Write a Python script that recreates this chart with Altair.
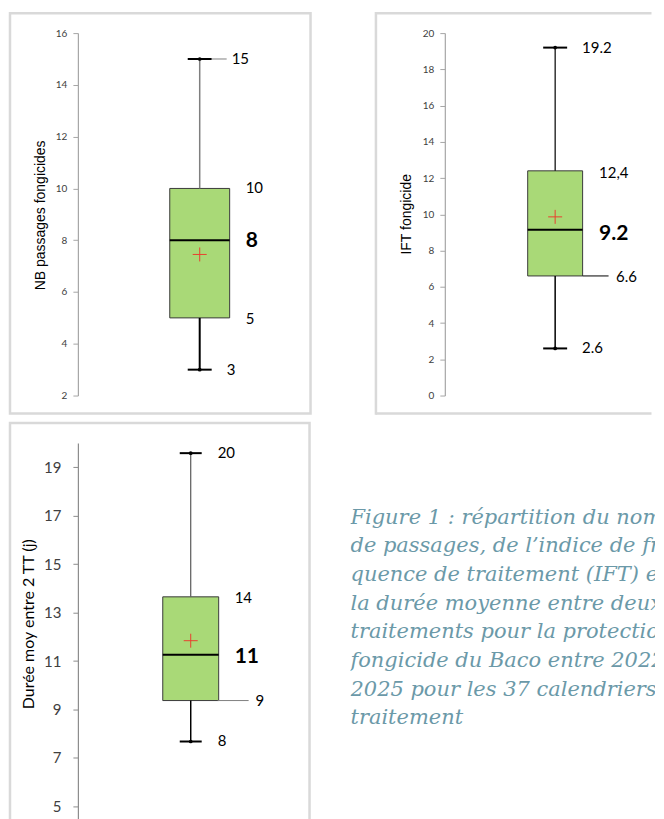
import altair as alt
import pandas as pd

# ---------------- data ----------------
panel_titles = ["NB passages fongicides", "IFT fongicide", "Durée moy entre 2 TT (j)"]
mins = [3, 2.6, 7.68]
q1s = [5, 6.6, 9.37]
medians = [8, 9.15, 11.26]
q3s = [10, 12.4, 13.65]
maxs = [15, 19.2, 19.58]
means = [7.45, 9.86, 11.84]
label_max = ["15", "19.2", "20"]
label_q3 = ["10", "12,4", "14"]
label_med = ["8", "9.2", "11"]
label_q1 = ["5", "6.6", "9"]
label_min = ["3", "2.6", "8"]
tick_values = [
    [2, 4, 6, 8, 10, 12, 14, 16],
    [0, 2, 4, 6, 8, 10, 12, 14, 16, 18, 20],
    [5, 7, 9, 11, 13, 15, 17, 19],
]
caption_lines = [
    "Figure 1 : répartition du nombre",
    "de passages, de l’indice de fré-",
    "quence de traitement (IFT) et de",
    "la durée moyenne entre deux",
    "traitements pour la protection",
    "fongicide du Baco entre 2022 et",
    "2025 pour les 37 calendriers de",
    "traitement",
]

GREEN = "#a9d977"
FRAME = "#d9d9d9"
FW = 2.5  # frame stroke width

# per-panel layout / style settings
cfgs = [
    dict(w=301, h=401, dom=[2, 16], yr=[383, 20], xr=[160, 220], off=-68,
         axcol="#a6a6a6", lfs=10, lpad=6, tfont="Liberation Sans", tfs=14,
         tx=-37, ty=202, cap=24, up=("#7f7f7f", 1.5), low=("black", 2),
         dx=[32, 46, 46, 46, 27], dy=[0, 0, 1, 1, 0],
         leader=("hi", 202, 217, "#7f7f7f"), frame="view"),
    dict(w=276, h=401, dom=[0, 20], yr=[383, 20], xr=[152, 207], off=-69,
         axcol="#a6a6a6", lfs=10, lpad=6, tfont="Liberation Sans", tfs=14,
         tx=-38, ty=201, cap=24, up=("black", 1.2), low=("black", 1.5),
         dx=[27, 44, 44, 61, 27], dy=[0, 2, 4, 1, 0],
         leader=("q1", 207, 233, "black"), frame="open"),
    dict(w=300, h=420, dom=[4, 20], yr=[408.3, 20], xr=[153, 209], off=-68,
         axcol="#8c8c8c", lfs=15, lpad=12, tfont="Lato", tfs=16,
         tx=-49, ty=201, cap=22, up=("#595959", 1.2), low=("black", 1.5),
         dx=[27, 44, 44, 65, 27], dy=[0, 1, 2, 0, 0],
         leader=("q1", 208, 239, "#7f7f7f"), frame="view"),
]


def panel(i):
    c = cfgs[i]
    df = pd.DataFrame({
        "k": ["box"], "lo": [mins[i]], "q1": [q1s[i]], "med": [medians[i]],
        "q3": [q3s[i]], "hi": [maxs[i]], "mean": [means[i]],
        "t_hi": [label_max[i]], "t_q3": [label_q3[i]], "t_med": [label_med[i]],
        "t_q1": [label_q1[i]], "t_lo": [label_min[i]],
    })
    xs = alt.Scale(domain=["box"], range=c["xr"], paddingInner=0, paddingOuter=0)
    ys = alt.Scale(domain=c["dom"], range=c["yr"], zero=False, nice=False)
    X = alt.X("k:N", scale=xs, axis=None)
    axis = alt.Axis(
        values=tick_values[i], offset=c["off"], grid=False,
        domainColor=c["axcol"], domainWidth=1.2, tickColor=c["axcol"],
        tickSize=5, tickWidth=1, labelFont="Lato", labelFontSize=c["lfs"],
        labelColor="#404040", labelPadding=c["lpad"],
        title=panel_titles[i], titleFont=c["tfont"], titleFontSize=c["tfs"],
        titleFontWeight="normal", titleColor="black", titleX=c["tx"],
        titleY=c["ty"], titleAngle=270, titleBaseline="middle",
        titleAlign="center",
    )

    def Y(f):
        return alt.Y(f"{f}:Q", scale=ys, axis=axis)

    base = alt.Chart(df)
    layers = []
    box = base.mark_bar(fill=GREEN, stroke="#3a3a3a", strokeWidth=1).encode(
        x=X, y=Y("q1"), y2="q3:Q")
    layers.append(box)
    layers.append(base.mark_rule(color=c["up"][0], strokeWidth=c["up"][1]).encode(
        x=X, y=Y("q3"), y2="hi:Q"))
    layers.append(base.mark_rule(color=c["low"][0], strokeWidth=c["low"][1]).encode(
        x=X, y=Y("lo"), y2="q1:Q"))
    layers.append(base.mark_tick(orient="horizontal", size=c["xr"][1] - c["xr"][0],
                                 thickness=2, color="black", opacity=1).encode(x=X, y=Y("med")))
    for f in ["hi", "lo"]:
        layers.append(base.mark_tick(orient="horizontal", size=c["cap"], thickness=2,
                                     color="black", opacity=1).encode(x=X, y=Y(f)))
    lf, lx1, lx2, lcol = c["leader"]
    layers.append(base.mark_rule(color=lcol, strokeWidth=1).encode(
        x=alt.value(lx1), x2=alt.value(lx2), y=Y(lf)))
    for f in ["hi", "lo"]:
        layers.append(base.mark_point(filled=True, size=14, color="black",
                                      opacity=1).encode(x=X, y=Y(f)))
    layers.append(base.mark_point(shape="M-1,0L1,0M0,-1L0,1", filled=False,
                                  stroke="#e8402f", strokeWidth=1, size=196,
                                  opacity=1).encode(x=X, y=Y("mean")))
    for j, f in enumerate(["hi", "q3", "med", "q1", "lo"]):
        bold = f == "med"
        layers.append(base.mark_text(
            align="left", baseline="middle", dx=c["dx"][j], dy=c["dy"][j],
            font="Lato", fontSize=21 if bold else 15,
            fontWeight="bold" if bold else "normal", color="black",
        ).encode(x=X, y=Y(f), text=alt.Text(f"t_{f}:N")))

    if c["frame"] == "open":
        # frame whose right side runs off the page: left, top and bottom edges
        layers.append(base.mark_rule(color=FRAME, strokeWidth=FW, strokeCap="square").encode(
            x=alt.value(0), y=alt.value(0), y2=alt.value(c["h"])))
        for yy in [0, c["h"]]:
            layers.append(base.mark_rule(color=FRAME, strokeWidth=FW, strokeCap="butt").encode(
                x=alt.value(0), x2=alt.value(c["w"]), y=alt.value(yy)))
        view = alt.ViewBackground(stroke="transparent")
    else:
        view = alt.ViewBackground(stroke=FRAME, strokeWidth=FW)
    return alt.layer(*layers).properties(width=c["w"], height=c["h"], view=view)


caption = alt.Chart(pd.DataFrame({"a": [0]})).mark_text(
    text=caption_lines, align="left", baseline="alphabetic", lineHeight=28.7,
    font="DejaVu Serif", fontStyle="italic", fontSize=21, color="#6b99a8",
    clip=True,
).encode(x=alt.value(0), y=alt.value(101)).properties(
    width=305, height=330, view=alt.ViewBackground(stroke="transparent"))

chart = alt.vconcat(
    alt.hconcat(panel(0), panel(1), spacing=60.5),
    alt.hconcat(panel(2), caption, spacing=38),
    spacing=4.5,
).properties(padding={"left": 0, "top": 1.5, "right": 0, "bottom": 0},
             background="white")

chart.save("out.html", embed_options={"renderer": "svg", "actions": False})
